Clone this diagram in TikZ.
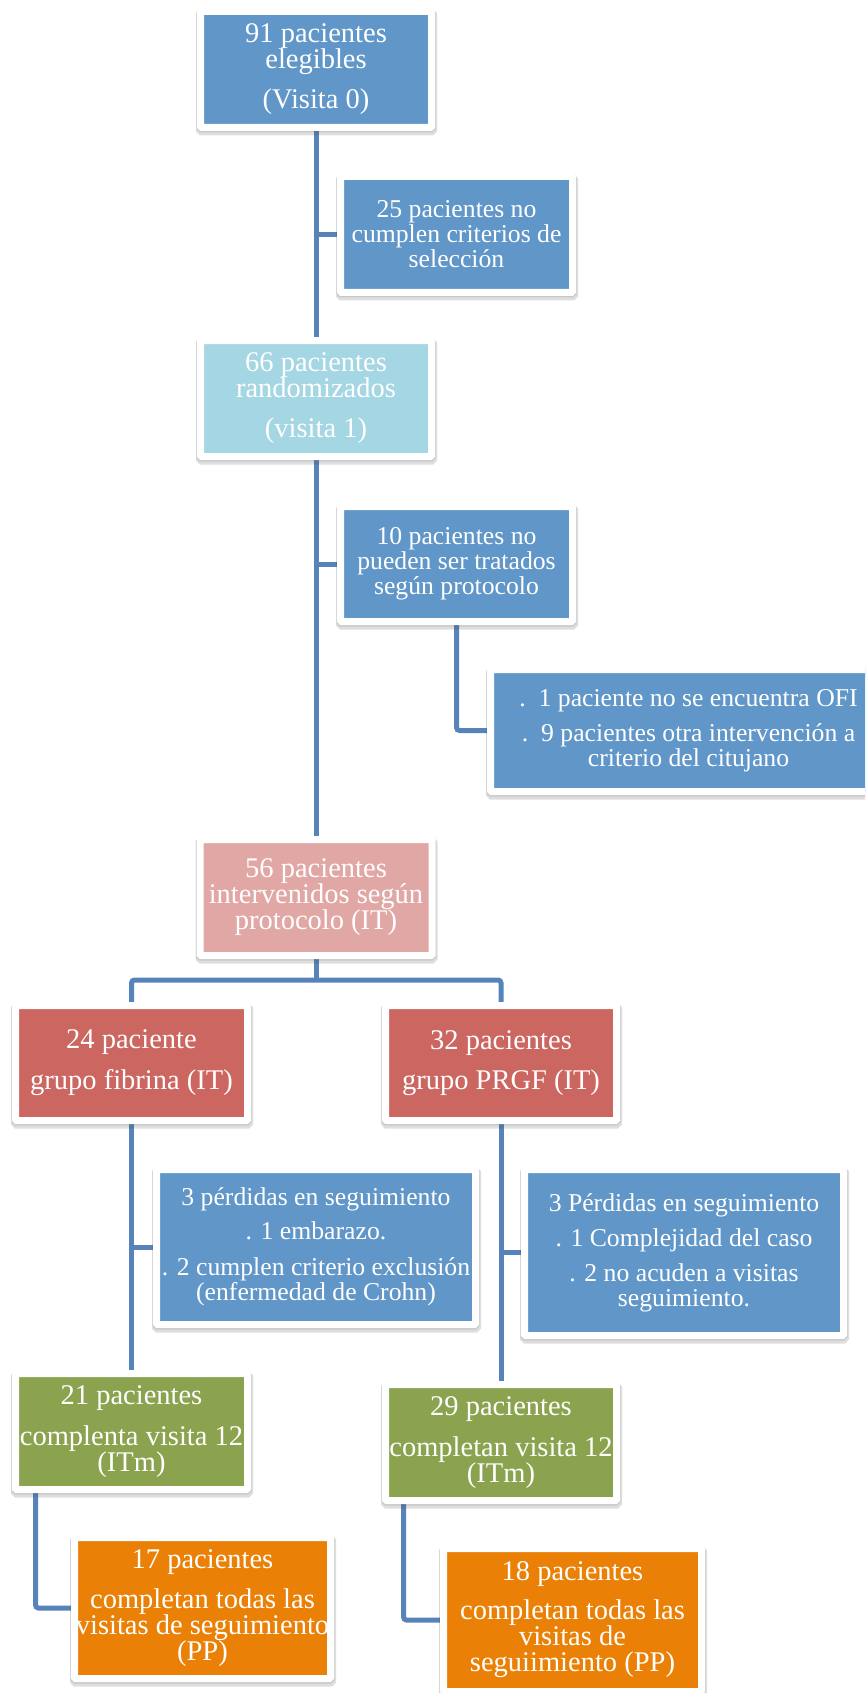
\documentclass[tikz,border=0pt]{standalone}
\usepackage{fontspec}
\setmainfont{Liberation Serif}
\usetikzlibrary{shadows,backgrounds}
\definecolor{azul}{HTML}{6196C9}
\definecolor{cielo}{HTML}{A5D6E3}
\definecolor{rosa}{HTML}{E1A7A5}
\definecolor{rojo}{HTML}{CC6661}
\definecolor{verde}{HTML}{8BA34F}
\definecolor{naranja}{HTML}{EA8106}
\definecolor{azullinea}{HTML}{5783BB}
\tikzset{
  caja/.style={draw=white, line width=7pt, rounded corners=1pt, inner sep=0pt, align=center, text=white,
    general shadow={draw=black!70, line width=10pt, opacity=0.18, shadow xshift=0.5pt, shadow yshift=-3pt},
    general shadow={draw=black!70, line width=8pt, opacity=0.15, shadow xshift=0pt, shadow yshift=-1pt}},
  grande/.style={font=\fontsize{28.5}{26}\selectfont},
  media/.style={font=\fontsize{25.7}{25}\selectfont},
  linea/.style={draw=azullinea, line width=5pt, rounded corners=3pt},
}
\begin{document}
\begin{tikzpicture}[x=1pt,y=-1pt]
  \clip (0,0) rectangle (865,1693);

  \node[caja,grande,fill=azul,minimum width=231,minimum height=116] (b1) at (316,69.5) {91 pacientes\\elegibles\\[14pt](Visita 0)};
  \node[caja,media,fill=azul,minimum width=232,minimum height=116] (b2) at (456.5,234.5) {25 pacientes no\\cumplen criterios de\\selección};
  \node[caja,grande,fill=cielo,minimum width=231,minimum height=116] (b3) at (316,398.5) {66 pacientes\\randomizados\\[14pt](visita 1)};
  \node[caja,media,fill=azul,minimum width=232,minimum height=115] (b4) at (456.5,564) {10 pacientes no\\pueden ser tratados\\según protocolo};
  \node[caja,media,fill=azul,minimum width=396,minimum height=122] (b5) at (688.5,730.5) {.\ \ 1 paciente no se encuentra OFI\\[10pt].\ \ 9 pacientes otra intervención a\\criterio del citujano};
  \node[caja,grande,fill=rosa,minimum width=232,minimum height=116] (b6) at (316,897.5) {56 pacientes\\intervenidos según\\protocolo (IT)};
  \node[caja,grande,fill=rojo,minimum width=232,minimum height=115] (b7) at (131.5,1063) {24 paciente\\[14pt]grupo fibrina (IT)};
  \node[caja,grande,fill=rojo,minimum width=231,minimum height=115] (b8) at (501,1063) {32 pacientes\\[14pt]grupo PRGF (IT)};
  \node[caja,media,fill=azul,minimum width=319,minimum height=155] (b9) at (316,1247) {3 pérdidas en seguimiento\\[9pt]. 1 embarazo.\\[11pt]. 2 cumplen criterio exclusión\\(enfermedad de Crohn)};
  \node[caja,media,fill=azul,minimum width=319,minimum height=166] (b10) at (684,1252.5) {3 Pérdidas en seguimiento\\[10pt]. 1 Complejidad del caso\\[10pt]. 2 no acuden a visitas\\seguimiento.};
  \node[caja,grande,fill=verde,minimum width=232,minimum height=116] (b11) at (131.5,1431.5) {21 pacientes\\[15pt]complenta visita 12\\(ITm)};
  \node[caja,grande,fill=verde,minimum width=231,minimum height=116] (b12) at (501,1442.5) {29 pacientes\\[15pt]completan visita 12\\(ITm)};
  \node[caja,grande,fill=naranja,minimum width=256,minimum height=141] (b13) at (202.5,1608) {17 pacientes\\[14pt]completan todas las\\visitas de seguimiento\\(PP)};
  \node[caja,grande,fill=naranja,minimum width=258,minimum height=143] (b14) at (572.5,1620) {18 pacientes\\[13pt]completan todas las\\visitas de\\seguiimiento (PP)};

  \coordinate (rama) at (316,980);
  \begin{scope}[on background layer]
    \fill[white] (0,0) rectangle (865,1693);
    \draw[linea] (b1) -- (b3);
    \draw[linea] (b3) -- (b6);
    \draw[linea] (b2.west) -- (b2.west -| b1);
    \draw[linea] (b4.west) -- (b4.west -| b1);
    \draw[linea] (b4) |- (b5.west);
    \draw[linea] (b6) -- (rama);
    \draw[linea] (b7) |- (rama) -| (b8);
    \draw[linea] (b7) -- (b11);
    \draw[linea] (b9.west) -- (b9.west -| b7);
    \draw[linea] (b8) -- (b12);
    \draw[linea] (b10.west) -- (b10.west -| b8);
    \draw[linea] ([xshift=23.5pt]b11.south west) |- (b13.west);
    \draw[linea] ([xshift=21.5pt]b12.south west) |- (b14.west);
  \end{scope}
\end{tikzpicture}
\end{document}
